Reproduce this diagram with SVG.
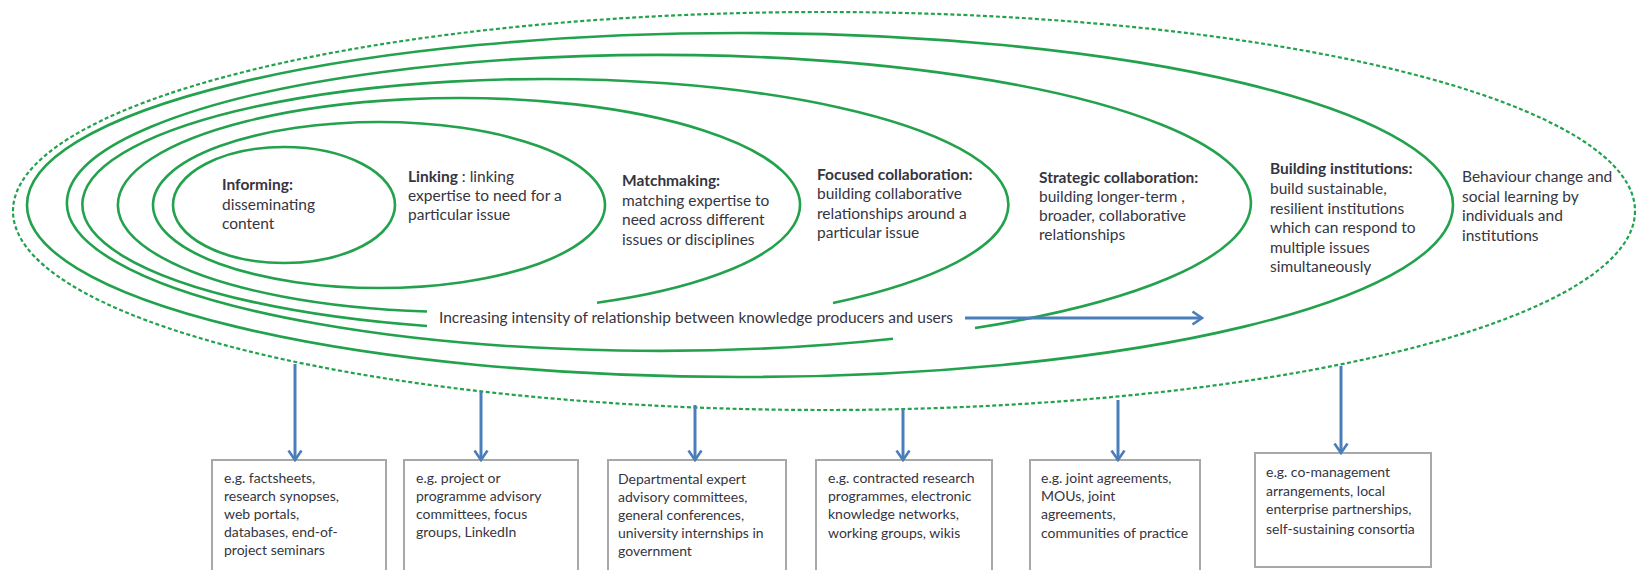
<svg xmlns="http://www.w3.org/2000/svg" width="1637" height="570" viewBox="0 0 1637 570">
<defs>
<style>
.ring{fill:none;stroke:#23a24d;stroke-width:2.6}
.dash{fill:none;stroke:#23a24d;stroke-width:2.2;stroke-dasharray:4 2.5}
.t{font-family:Lato,"Open Sans","Liberation Sans",sans-serif;font-size:15.5px;fill:#35353f}
.b{font-weight:bold}
.box{fill:#ffffff;stroke:#a8a8a8;stroke-width:2}
.bt{font-family:Lato,"Open Sans","Liberation Sans",sans-serif;font-size:14px;fill:#35353f}
.arr{stroke:#4a7ebb;stroke-width:3;fill:none}
</style>
<marker id="ah" viewBox="0 0 12 16" refX="10.5" refY="8" markerWidth="12" markerHeight="16" markerUnits="userSpaceOnUse" orient="auto">
<path d="M1,1.5 L10.5,8 L1,14.5" fill="none" stroke="#4a7ebb" stroke-width="2.6"/>
</marker>
</defs>
<rect width="1637" height="570" fill="#ffffff"/>

<g id="behaviour-change">
<ellipse class="dash" cx="824" cy="211" rx="811" ry="199"/>
<text class="t" x="1462"><tspan x="1462" y="182">Behaviour change and</tspan><tspan x="1462" y="202">social learning by</tspan><tspan x="1462" y="221">individuals and</tspan><tspan x="1462" y="241">institutions</tspan></text>
</g>

<g id="building-institutions">
<ellipse class="ring" cx="740" cy="205" rx="713" ry="172"/>
<text class="t" x="1270"><tspan class="b" x="1270" y="174">Building institutions:</tspan><tspan x="1270" y="194">build sustainable,</tspan><tspan x="1270" y="214">resilient institutions</tspan><tspan x="1270" y="233">which can respond to</tspan><tspan x="1270" y="253">multiple issues</tspan><tspan x="1270" y="272">simultaneously</tspan></text>
</g>

<g id="strategic-collaboration">
<path class="ring" d="M975,328 A592,148 0 1 0 893,338.8"/>
<text class="t" x="1039"><tspan class="b" x="1039" y="183">Strategic collaboration:</tspan><tspan x="1039" y="202">building longer-term ,</tspan><tspan x="1039" y="221">broader, collaborative</tspan><tspan x="1039" y="240">relationships</tspan></text>
</g>

<g id="focused-collaboration">
<path class="ring" d="M833,303 A463,125.6 0 1 0 427,326"/>
<text class="t" x="817"><tspan class="b" x="817" y="180">Focused collaboration:</tspan><tspan x="817" y="199">building collaborative</tspan><tspan x="817" y="219">relationships around a</tspan><tspan x="817" y="238">particular issue</tspan></text>
</g>

<g id="matchmaking">
<path class="ring" d="M597,302.8 A341,107 0 1 0 427,311.5"/>
<text class="t" x="622"><tspan class="b" x="622" y="186">Matchmaking:</tspan><tspan x="622" y="206">matching expertise to</tspan><tspan x="622" y="225">need across different</tspan><tspan x="622" y="245">issues or disciplines</tspan></text>
</g>

<g id="linking">
<ellipse class="ring" cx="379" cy="205" rx="226" ry="83"/>
<text class="t" x="408"><tspan x="408" y="182"><tspan class="b">Linking</tspan> : linking</tspan><tspan x="408" y="201">expertise to need for a</tspan><tspan x="408" y="220">particular issue</tspan></text>
</g>

<g id="informing">
<ellipse class="ring" cx="284" cy="205" rx="111" ry="58"/>
<text class="t" x="222"><tspan class="b" x="222" y="190">Informing:</tspan><tspan x="222" y="210">disseminating</tspan><tspan x="222" y="229">content</tspan></text>
</g>

<g id="intensity-label">
<text class="t" x="439" y="323">Increasing intensity of relationship between knowledge producers and users</text>
</g>

<g id="box-informing">
<rect class="box" x="212" y="460" width="174" height="120"/>
<text class="bt"><tspan x="224" y="483">e.g. factsheets,</tspan><tspan x="224" y="501">research synopses,</tspan><tspan x="224" y="519">web portals,</tspan><tspan x="224" y="537">databases, end-of-</tspan><tspan x="224" y="555">project seminars</tspan></text>
</g>
<g id="box-linking">
<rect class="box" x="404" y="460" width="174" height="120"/>
<text class="bt"><tspan x="416" y="483">e.g. project or</tspan><tspan x="416" y="501">programme advisory</tspan><tspan x="416" y="519">committees, focus</tspan><tspan x="416" y="537">groups, LinkedIn</tspan></text>
</g>
<g id="box-matchmaking">
<rect class="box" x="608" y="460" width="178" height="120"/>
<text class="bt"><tspan x="618" y="484">Departmental expert</tspan><tspan x="618" y="502">advisory committees,</tspan><tspan x="618" y="520">general conferences,</tspan><tspan x="618" y="538">university internships in</tspan><tspan x="618" y="556">government</tspan></text>
</g>
<g id="box-focused">
<rect class="box" x="816" y="460" width="176" height="120"/>
<text class="bt"><tspan x="828" y="483">e.g. contracted research</tspan><tspan x="828" y="501">programmes, electronic</tspan><tspan x="828" y="519">knowledge networks,</tspan><tspan x="828" y="538">working groups, wikis</tspan></text>
</g>
<g id="box-strategic">
<rect class="box" x="1030" y="460" width="170" height="120"/>
<text class="bt"><tspan x="1041" y="483">e.g. joint agreements,</tspan><tspan x="1041" y="501">MOUs, joint</tspan><tspan x="1041" y="519">agreements,</tspan><tspan x="1041" y="538">communities of practice</tspan></text>
</g>
<g id="box-building">
<rect class="box" x="1255" y="453" width="176" height="114"/>
<text class="bt"><tspan x="1266" y="477">e.g. co-management</tspan><tspan x="1266" y="496">arrangements, local</tspan><tspan x="1266" y="514">enterprise partnerships,</tspan><tspan x="1266" y="534">self-sustaining consortia</tspan></text>
</g>

<g id="connectors">
<line class="arr" x1="965" y1="318" x2="1202" y2="318" marker-end="url(#ah)"/>
<line class="arr" x1="295" y1="364" x2="295" y2="460" marker-end="url(#ah)"/>
<line class="arr" x1="481" y1="392" x2="481" y2="460" marker-end="url(#ah)"/>
<line class="arr" x1="695" y1="405" x2="695" y2="460" marker-end="url(#ah)"/>
<line class="arr" x1="903" y1="409" x2="903" y2="460" marker-end="url(#ah)"/>
<line class="arr" x1="1118" y1="400" x2="1118" y2="460" marker-end="url(#ah)"/>
<line class="arr" x1="1341" y1="366" x2="1341" y2="453" marker-end="url(#ah)"/>
</g>
</svg>
